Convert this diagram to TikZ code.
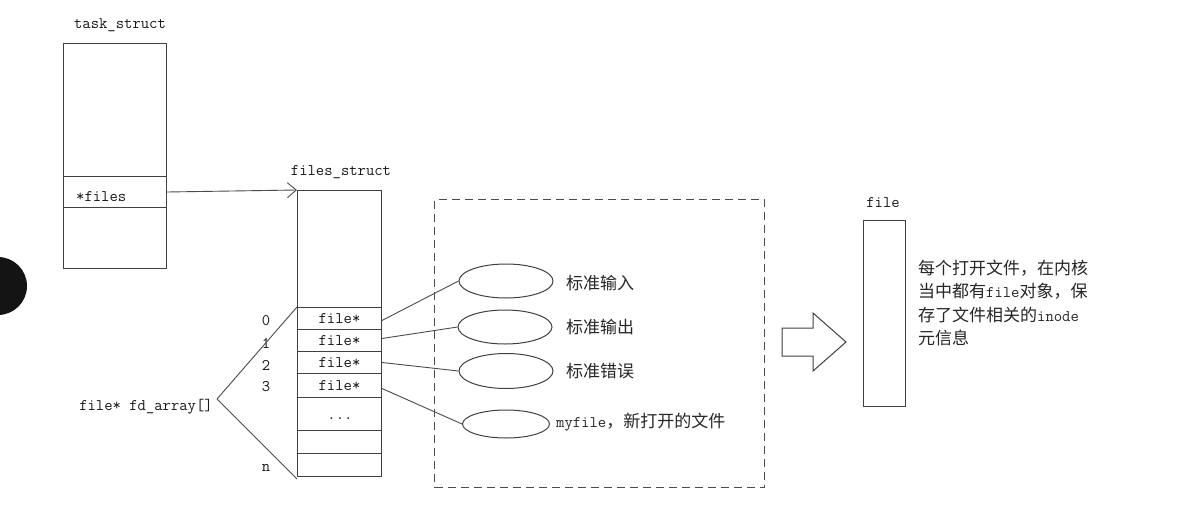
\documentclass[tikz,border=0pt]{standalone}
\usepackage{fontspec}
\newfontfamily\cjk{Noto Sans CJK SC}
\usetikzlibrary{arrows.meta,shapes.geometric}
\tikzset{
  cell/.style={draw=black!75, line width=1pt, inner sep=0pt, anchor=north west,
    font=\ttfamily\fontsize{16.2}{19}\selectfont, text=black!90},
  lbl/.style={inner sep=0pt, font=\ttfamily\fontsize{16.2}{19}\selectfont, text=black!90},
  clbl/.style={inner sep=0pt, anchor=west, font=\cjk\fontsize{17}{23}\selectfont, text=black!85},
  oval/.style={ellipse, draw=black!75, line width=1pt, inner sep=0pt},
  conn/.style={draw=black!70, line width=0.9pt},
  ptr/.style={conn, -{Straight Barb[length=9pt,width=15pt,line width=0.9pt]}},
  dashbox/.style={draw=black!70, line width=1pt, dash pattern=on 8pt off 5pt, inner sep=0pt, anchor=north west}
}
\begin{document}
\begin{tikzpicture}[x=1pt,y=-1pt]
\useasboundingbox (0,0) rectangle (1202,525);
\fill[white] (0,0) rectangle (1202,525);
\begin{scope}
  \clip (0,0) rectangle (1202,525);
  \fill[black!92] (-2,286) circle (29);
\end{scope}

% task_struct
\node[lbl] (tsl) at (120,25) {task\_struct};
\node[cell, minimum width=103pt, minimum height=133pt] (ts0) at (63,43) {};
\node[cell, minimum width=103pt, minimum height=31pt] (ts1) at (63,176) {};
\node[lbl, anchor=west] (tsf) at (76,197) {*files};
\node[cell, minimum width=103pt, minimum height=61pt] (ts2) at (63,207) {};

% files_struct
\node[lbl] (fsl) at (341,172) {files\_struct};
\node[cell, minimum width=84pt, minimum height=117pt] (fs0) at (297,190) {};
\node[cell, minimum width=84pt, minimum height=22pt] (r0) at (297,307) {file*};
\node[cell, minimum width=84pt, minimum height=22pt] (r1) at (297,329) {file*};
\node[cell, minimum width=84pt, minimum height=22pt] (r2) at (297,351) {file*};
\node[cell, minimum width=84pt, minimum height=24pt] (r3) at (297,373) {file*};
\node[cell, minimum width=84pt, minimum height=33pt] (r4) at (297,397) {};
\node[lbl] (dots) at (340,419) {...};
\node[cell, minimum width=84pt, minimum height=23pt] (r5) at (297,430) {};
\node[cell, minimum width=84pt, minimum height=23pt] (rn) at (297,453) {};

\draw[ptr] (ts1.east) -- (fs0.north west);

% indices
\node[lbl] (i0) at (266,321) {0};
\node[lbl] (i1) at (266,343) {1};
\node[lbl] (i2) at (266,365) {2};
\node[lbl] (i3) at (266,387) {3};
\node[lbl] (in) at (266,468) {n};

% fd_array
\node[lbl] (fda) at (146,407) {file* fd\_array[]};
\coordinate (fdtip) at (217,399);
\draw[conn] (fdtip) -- (r0.north west);
\draw[conn] (fdtip) -- ([yshift=-2pt]rn.south west);

% dashed group
\node[dashbox, minimum width=330pt, minimum height=288pt] (grp) at (434,199) {};

% ellipses
\node[oval, minimum width=94pt, minimum height=34pt] (e1) at (506,281) {};
\node[oval, minimum width=94pt, minimum height=34pt] (e2) at (505,327) {};
\node[oval, minimum width=94pt, minimum height=35pt] (e3) at (506,371) {};
\node[oval, minimum width=87pt, minimum height=28pt] (e4) at (506,424) {};

\node[clbl] (t1) at (566,283) {标准输入};
\node[clbl] (t2) at (566,327) {标准输出};
\node[clbl] (t3) at (566,371) {标准错误};
\node[clbl] (t4) at (556,422) {{\ttfamily\fontsize{16.2}{19}\selectfont myfile}，新打开的文件};

\draw[conn] ([yshift=-2pt]r0.east) -- (e1.west);
\draw[conn] ([yshift=2pt]r1.east) -- (e2.west);
\draw[conn] (r2.east) -- (e3.west);
\draw[conn] ([yshift=-3pt]r3.east) -- (e4.west);

% block arrow
\draw[draw=black!75, line width=1pt, line join=miter]
  (782,328) -- (813,328) -- (813,313) -- (846,342) -- (813,371) -- (813,356) -- (782,356) -- cycle;

% file
\node[lbl] (fl) at (883,203) {file};
\node[cell, minimum width=42pt, minimum height=186pt] (fbox) at (863,220) {};

\node[inner sep=0pt, anchor=north west, align=left, font=\cjk\fontsize{17}{23.3}\selectfont, text=black!85] (desc) at (918,260)
  {每个打开文件，在内核\\
   当中都有{\ttfamily\fontsize{16.2}{19}\selectfont file}对象，保\\
   存了文件相关的{\ttfamily\fontsize{16.2}{19}\selectfont inode}\\
   元信息};
\end{tikzpicture}
\end{document}
